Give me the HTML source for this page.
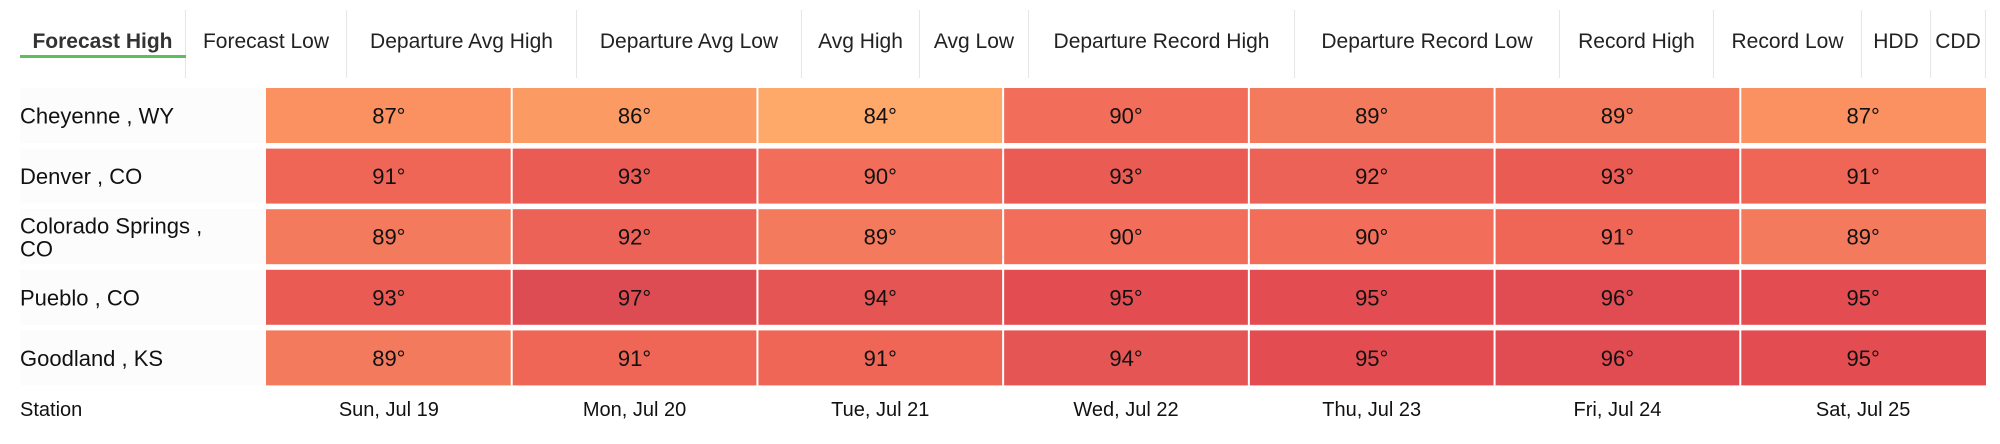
<!DOCTYPE html>
<html><head><meta charset="utf-8"><style>
html,body{margin:0;padding:0;background:#fff;width:2000px;height:444px;overflow:hidden;font-family:"Liberation Sans",sans-serif;color:#111}
.tab{position:absolute;top:10px;height:68px;line-height:64px;font-size:21px;color:#222;border-right:1px solid #e6e6e6;text-align:center;white-space:nowrap}
#uline{position:absolute;left:20px;top:55px;width:166px;height:3px;background:#5cbf5c}
</style></head><body>
<div id="tabs"></div>
<div id="uline"></div>
<svg id="grid" width="2000" height="444" style="position:absolute;left:0;top:0"></svg>
<script>
const tabs=["Forecast High","Forecast Low","Departure Avg High","Departure Avg Low","Avg High","Avg Low","Departure Record High","Departure Record Low","Record High","Record Low","HDD","CDD"];
const tabEdges=[20,186,347,577,802,920,1029,1295,1560,1714,1862,1931,1986];
const stations=["Cheyenne , WY","Denver , CO","Colorado Springs , CO","Pueblo , CO","Goodland , KS"];
const days=["Sun, Jul 19","Mon, Jul 20","Tue, Jul 21","Wed, Jul 22","Thu, Jul 23","Fri, Jul 24","Sat, Jul 25"];
const temps=[
[87,86,84,90,89,89,87],
[91,93,90,93,92,93,91],
[89,92,89,90,90,91,89],
[93,97,94,95,95,96,95],
[89,91,91,94,95,96,95]];
const stops=[[84,[254,168,106]],[86,[252,154,100]],[87,[251,144,96]],[89,[243,122,92]],[90,[242,110,90]],[91,[239,102,87]],[92,[237,98,87]],[93,[234,91,84]],[94,[229,85,83]],[95,[227,77,82]],[96,[225,75,82]],[97,[221,76,82]]];
function color(v){
  if(v<=stops[0][0])return `rgb(${stops[0][1]})`;
  for(let i=1;i<stops.length;i++){if(v<=stops[i][0]){const a=stops[i-1],b=stops[i],t=(v-a[0])/(b[0]-a[0]);return 'rgb('+a[1].map((c,k)=>Math.round(c+(b[1][k]-c)*t)).join(',')+')';}}
  return `rgb(${stops[stops.length-1][1]})`;
}
const T=document.getElementById('tabs');
tabs.forEach((t,i)=>{const d=document.createElement('div');d.className='tab';


d.style.left=tabEdges[i]+'px';d.style.width=(tabEdges[i+1]-tabEdges[i]-1)+'px';
if(i==0){d.style.fontWeight='bold';d.style.color='#333';}
if(i==tabs.length-1)d.style.borderRight='1px solid #e6e6e6';
d.textContent=t;T.appendChild(d);});
const S=document.getElementById('grid'),NS='http://www.w3.org/2000/svg';
const x0=266,x1=1986,y0=88,rowPitch=60.6,rowH=55;
const cw=(x1-x0)/days.length;
const xs=j=>x0+j*cw, ys=i=>y0+i*rowPitch;
function el(tag,attrs,txt){const e=document.createElementNS(NS,tag);for(const k in attrs)e.setAttribute(k,attrs[k]);if(txt!=null)e.textContent=txt;S.appendChild(e);return e;}
stations.forEach((s,i)=>{
  const bg=el('rect',{x:20,y:ys(i),width:x0-20,height:rowH,fill:'#fcfcfc'});
  
  const tx=el('text',{x:20,'font-size':22,fill:'#111'});
  
  if(s.length>18){const p=s.split(' , ');
    const a=document.createElementNS(NS,'tspan');a.setAttribute('x',20);a.setAttribute('y',ys(i)+rowH/2-3);a.textContent=p[0]+' ,';tx.appendChild(a);
    const b=document.createElementNS(NS,'tspan');b.setAttribute('x',20);b.setAttribute('y',ys(i)+rowH/2+20);b.textContent=p[1];tx.appendChild(b);
  } else {tx.setAttribute('y',ys(i)+rowH/2+8);tx.textContent=s;}
  temps[i].forEach((v,j)=>{
    const r=el('rect',{x:xs(j)+(j?1:0),y:ys(i),width:cw-(j?1:0)-(j<days.length-1?1:0),height:rowH,fill:color(v)});
    
    const t=el('text',{x:xs(j)+cw/2,y:ys(i)+rowH/2+8,'text-anchor':'middle','font-size':22,fill:'#111'},v+'°');
    
  });
});
const st=el('text',{x:20,y:416,'font-size':20,fill:'#111'},'Station');

days.forEach((d,j)=>{const t=el('text',{x:xs(j)+cw/2,y:416,'text-anchor':'middle','font-size':20,fill:'#111'},d);
});
</script>
</body></html>
